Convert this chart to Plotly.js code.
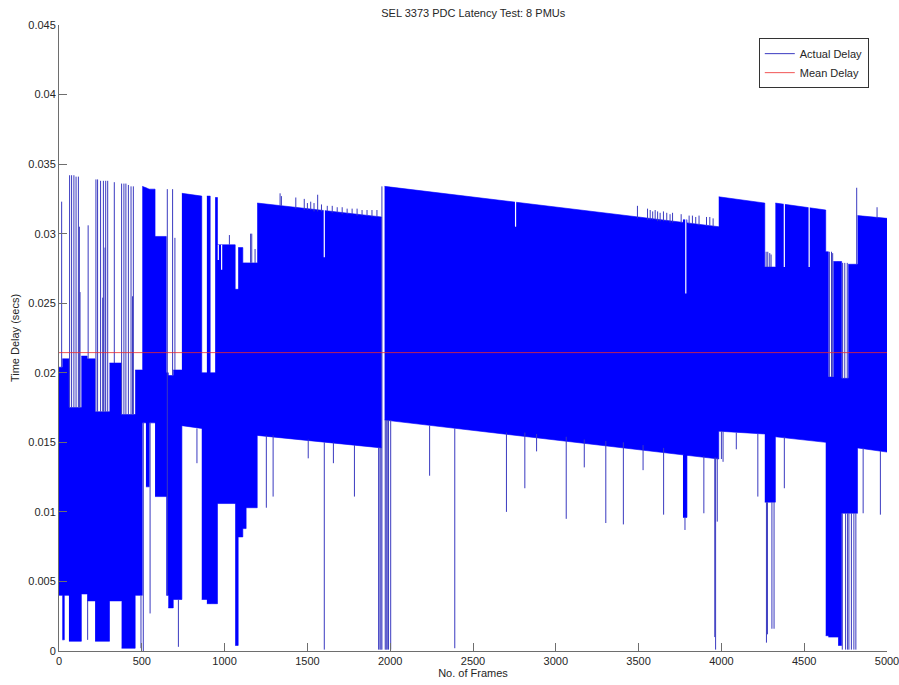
<!DOCTYPE html>
<html>
<head>
<meta charset="utf-8">
<script src="https://cdn.plot.ly/plotly-3.0.1.min.js"></script>
<style>html,body{margin:0;padding:0;background:#fff;}#chart{width:899px;height:685px;}</style>
</head>
<body>
<div id="chart"></div>
<script>
// ---- Data (frame index, delay in seconds) ----
// Dense band of "Actual Delay": blocks of frames with the covered delay range at block start/end
var blkX0  = [0, 20, 32, 60, 135, 170, 218, 305, 378, 460, 503, 525, 545, 580, 648, 660, 690, 742, 862, 893, 913, 943, 957, 1064, 1082, 1110, 1130, 1197, 1966, 3768, 3984, 4262, 4326, 4630, 4646, 4676, 4705, 4726, 4766, 4822];
var blkX1  = [20, 32, 60, 135, 170, 218, 305, 378, 460, 503, 525, 545, 580, 648, 660, 690, 742, 862, 893, 913, 943, 957, 1064, 1082, 1110, 1130, 1197, 1948, 3984, 3792, 4262, 4326, 4630, 4646, 4676, 4705, 4726, 4766, 4822, 5000];
var blkLo0 = [0.0040, 0.0008, 0.0040, 0.0007, 0.0041, 0.0036, 0.0007, 0.0036, 0.0002, 0.0040, 0.0164, 0.0118, 0.0164, 0.0111, 0.0040, 0.0031, 0.0037, 0.0162, 0.0037, 0.0034, 0.0034, 0.0034, 0.0106, 0.0004, 0.0082, 0.0088, 0.0103, 0.0155, 0.0166, 0.0096, 0.0158, 0.0107, 0.0154, 0.0011, 0.0010, 0.0010, 0.0004, 0.0099, 0.0099, 0.0146];
var blkLo1 = [0.0040, 0.0008, 0.0040, 0.0007, 0.0041, 0.0036, 0.0007, 0.0036, 0.0002, 0.0040, 0.0164, 0.0118, 0.0164, 0.0111, 0.0040, 0.0031, 0.0037, 0.0160, 0.0037, 0.0034, 0.0034, 0.0034, 0.0106, 0.0004, 0.0082, 0.0088, 0.0103, 0.0146, 0.0138, 0.0096, 0.0156, 0.0107, 0.0150, 0.0011, 0.0010, 0.0010, 0.0004, 0.0099, 0.0099, 0.0143];
var blkHi0 = [0.0204, 0.0210, 0.0210, 0.0175, 0.0212, 0.0210, 0.0172, 0.0207, 0.0170, 0.0202, 0.0334, 0.0333, 0.0332, 0.0298, 0.0200, 0.0198, 0.0202, 0.0329, 0.0200, 0.0327, 0.0200, 0.0326, 0.0292, 0.0260, 0.0290, 0.0279, 0.0279, 0.0322, 0.0334, 0.0310, 0.03265, 0.0276, 0.0322, 0.0287, 0.0197, 0.0280, 0.0280, 0.0196, 0.0278, 0.0313];
var blkHi1 = [0.0204, 0.0210, 0.0210, 0.0175, 0.0212, 0.0210, 0.0172, 0.0207, 0.0170, 0.0202, 0.0333, 0.0332, 0.0332, 0.0298, 0.0200, 0.0198, 0.0202, 0.0327, 0.0200, 0.0327, 0.0200, 0.0326, 0.0292, 0.0260, 0.0290, 0.0279, 0.0279, 0.0312, 0.0305, 0.0310, 0.0322, 0.0276, 0.0317, 0.0287, 0.0197, 0.0280, 0.0280, 0.0196, 0.0278, 0.0311];

// Isolated excursions of "Actual Delay": frame, low value, high value
var spikeX  = [16, 64, 76, 90, 103, 117, 123, 127, 176, 223, 233, 251, 268, 282, 294, 278, 264, 334, 378, 392, 404, 419, 435, 449, 444, 654, 686, 700, 1029, 1157, 1164, 1184,
               1335, 1343, 1430, 1481, 1500, 1520, 1540, 1562, 1585, 1620, 1650, 1680, 1710, 1740, 1770, 1800, 1830, 1860, 1890, 1920,
               3493, 3554, 3570, 3585, 3600, 3615, 3630, 3650, 3670, 3690, 3705, 3757, 3805, 3825, 3845, 3865, 3910, 3930, 3950,
               4270, 4280, 4292, 4300, 4652, 4665, 4672, 4732, 4745, 4760, 4817, 4940, 1950,
               173, 495, 509, 550, 721, 833, 1252, 1293, 1505, 1602, 1657, 1784, 1930, 1938, 1944, 1970, 1976, 1982, 1990, 2003,
               2238, 2390, 2702, 2813, 2884, 3063, 3172, 3302, 3408, 3527, 3651, 3780, 3894, 3960, 3965, 3975,
               4000, 4010, 4090, 4220, 4272, 4278, 4305, 4318, 4380, 4730, 4750, 4762, 4770, 4785, 4800, 4812, 4856, 4960];
var spikeLo = [0.0204, 0.0175, 0.0175, 0.0175, 0.0175, 0.0175, 0.0175, 0.0175, 0.0210, 0.0172, 0.0172, 0.0172, 0.0172, 0.0172, 0.0172, 0.0172, 0.0172, 0.0207, 0.0170, 0.0170, 0.0170, 0.0170, 0.0170, 0.0170, 0.0170, 0.0040, 0.0198, 0.0202, 0.0292, 0.0279, 0.0279, 0.0279,
               0.0320, 0.0320, 0.0318, 0.0317, 0.0317, 0.0317, 0.0316, 0.0316, 0.0316, 0.0316, 0.0315, 0.0315, 0.0314, 0.0314, 0.0314, 0.0313, 0.0313, 0.0313, 0.0312, 0.0312,
               0.0311, 0.0310, 0.0310, 0.0310, 0.0310, 0.0309, 0.0309, 0.0309, 0.0309, 0.0308, 0.0308, 0.0308, 0.0307, 0.0307, 0.0307, 0.0306, 0.0306, 0.0306, 0.0305,
               0.0276, 0.0276, 0.0276, 0.0276, 0.0197, 0.0197, 0.0197, 0.0196, 0.0196, 0.0196, 0.0278, 0.0311, 0.0001,
               0.0008, 0.0002, 0.0000, 0.0027, 0.0003, 0.0135, 0.0103, 0.0111, 0.01385, 0.0001, 0.0135, 0.0111, 0.0001, 0.0001, 0.0001, 0.0001, 0.0001, 0.0001, 0.0001, 0.0001,
               0.0126, 0.0002, 0.0100, 0.0117, 0.01435, 0.0095, 0.0132, 0.0092, 0.0091, 0.0130, 0.0098, 0.0087, 0.0099, 0.0010, 0.0001, 0.0093,
               0.0138, 0.0136, 0.0145, 0.0111, 0.0006, 0.0012, 0.0016, 0.0016, 0.0117, 0.0001, 0.0001, 0.0001, 0.0001, 0.0001, 0.0001, 0.0001, 0.0099, 0.0098];
var spikeHi = [0.0323, 0.0342, 0.0342, 0.0342, 0.0341, 0.0341, 0.0305, 0.0258, 0.0306, 0.0339, 0.0339, 0.0338, 0.0338, 0.0338, 0.0338, 0.0290, 0.0254, 0.0337, 0.0336, 0.0336, 0.0336, 0.0335, 0.0334, 0.0334, 0.0255, 0.0332, 0.0332, 0.0297, 0.0299, 0.0300, 0.0300, 0.0289,
               0.0329, 0.0327, 0.0326, 0.0325, 0.0322, 0.0323, 0.0322, 0.0328, 0.0321, 0.0320, 0.0320, 0.0319, 0.0319, 0.0318, 0.0318, 0.0318, 0.0317, 0.0317, 0.0317, 0.0317,
               0.0320, 0.0318, 0.0317, 0.0316, 0.0317, 0.0316, 0.0315, 0.0316, 0.0315, 0.0314, 0.0315, 0.0314, 0.0313, 0.0313, 0.0312, 0.0313, 0.0312, 0.0312, 0.0311,
               0.0287, 0.0287, 0.0286, 0.0285, 0.0287, 0.0287, 0.0286, 0.0279, 0.0279, 0.0279, 0.0333, 0.0319, 0.0334,
               0.0036, 0.0040, 0.0164, 0.0164, 0.0037, 0.0160, 0.0155, 0.0155, 0.0152, 0.0150, 0.0150, 0.0148, 0.0146, 0.0146, 0.0146, 0.0166, 0.0166, 0.0166, 0.0166, 0.0166,
               0.0162, 0.0160, 0.0157, 0.0157, 0.0156, 0.0154, 0.0152, 0.0151, 0.0150, 0.0148, 0.0146, 0.0096, 0.0140, 0.0139, 0.0139, 0.0139,
               0.0158, 0.0158, 0.0157, 0.0156, 0.0107, 0.0107, 0.0107, 0.0107, 0.0154, 0.0099, 0.0099, 0.0099, 0.0099, 0.0099, 0.0099, 0.0099, 0.0146, 0.0144];

// Short gaps (dropouts) inside the band: frame, low value, high value
var gapX  = [962, 982, 1602, 2757, 3785, 4380, 4530];
var gapLo = [0.0281, 0.0274, 0.0283, 0.0305, 0.0257, 0.0276, 0.0276];
var gapHi = [0.0292, 0.0292, 0.0318, 0.0326, 0.0311, 0.0322, 0.0320];

// Mean delay
var meanX = [0, 5000];
var meanDelay = 0.02145;

// Axis ticks
var xTicks = [0, 500, 1000, 1500, 2000, 2500, 3000, 3500, 4000, 4500, 5000];
var yTicks = [0, 0.005, 0.01, 0.015, 0.02, 0.025, 0.03, 0.035, 0.04, 0.045];
var yTickText = ['0', '0.005', '0.01', '0.015', '0.02', '0.025', '0.03', '0.035', '0.04', '0.045'];

// ---- Build traces ----
var bx = [], by = [];
for (var i = 0; i < blkX0.length; i++) {
  bx.push(blkX0[i], blkX1[i], blkX1[i], blkX0[i], null);
  by.push(blkLo0[i], blkLo1[i], blkHi1[i], blkHi0[i], null);
}
var sx = [], sy = [];
for (var j = 0; j < spikeX.length; j++) {
  sx.push(spikeX[j], spikeX[j], null);
  sy.push(spikeLo[j], spikeHi[j], null);
}
var gx = [], gy = [];
for (var k = 0; k < gapX.length; k++) {
  gx.push(gapX[k], gapX[k], null);
  gy.push(gapLo[k], gapHi[k], null);
}

var FONT = 'Liberation Sans, Arial, Helvetica, sans-serif';
var traces = [
  {x: bx, y: by, type: 'scatter', mode: 'lines', fill: 'toself', fillcolor: '#0000ff',
   line: {color: '#0000ff', width: 0.6}, showlegend: false, hoverinfo: 'skip', legendgroup: 'a'},
  {x: sx, y: sy, type: 'scatter', mode: 'lines', name: 'Actual Delay', legendgroup: 'a',
   line: {color: '#3a3ac0', width: 1}, connectgaps: false},
  {x: gx, y: gy, type: 'scatter', mode: 'lines', showlegend: false, hoverinfo: 'skip',
   line: {color: '#ffffff', width: 1.2}, connectgaps: false},
  {x: meanX, y: [meanDelay, meanDelay], type: 'scatter', mode: 'lines', name: 'Mean Delay',
   line: {color: '#ee2a2a', width: 0.8}}
];

var axisCommon = {
  showline: true, linecolor: '#6e6e6e', linewidth: 1, mirror: false,
  ticks: 'inside', ticklen: 8, tickcolor: '#6e6e6e', tickwidth: 1,
  showgrid: false, zeroline: false, ticklabeloverflow: 'allow',
  tickfont: {family: FONT, size: 11, color: '#262626'}
};

var layout = {
  width: 899, height: 685,
  paper_bgcolor: '#ffffff', plot_bgcolor: '#ffffff',
  margin: {l: 59, r: 12, t: 25, b: 34},
  font: {family: FONT, size: 11, color: '#262626'},
  title: {text: 'SEL 3373 PDC Latency Test: 8 PMUs', x: 0.5264, xanchor: 'center',
          y: 0.981, yanchor: 'middle', font: {family: FONT, size: 11, color: '#262626'}},
  xaxis: Object.assign({}, axisCommon, {
    range: [0, 5000], tickvals: xTicks, tickformat: 'd',
    title: {text: 'No. of Frames', standoff: 2, font: {family: FONT, size: 11, color: '#262626'}}
  }),
  yaxis: Object.assign({}, axisCommon, {
    range: [0, 0.045], tickvals: yTicks, ticktext: yTickText,
    title: {text: 'Time Delay (secs)', standoff: 6, font: {family: FONT, size: 11, color: '#262626'}}
  }),
  legend: {x: 0.978, xanchor: 'right', y: 0.979, yanchor: 'top',
           bgcolor: '#ffffff', bordercolor: '#333333', borderwidth: 1, itemwidth: 30,
           font: {family: FONT, size: 11, color: '#262626'}, tracegroupgap: 0},
  showlegend: true
};

Plotly.newPlot('chart', traces, layout, {staticPlot: true, displayModeBar: false});
</script>
</body>
</html>
